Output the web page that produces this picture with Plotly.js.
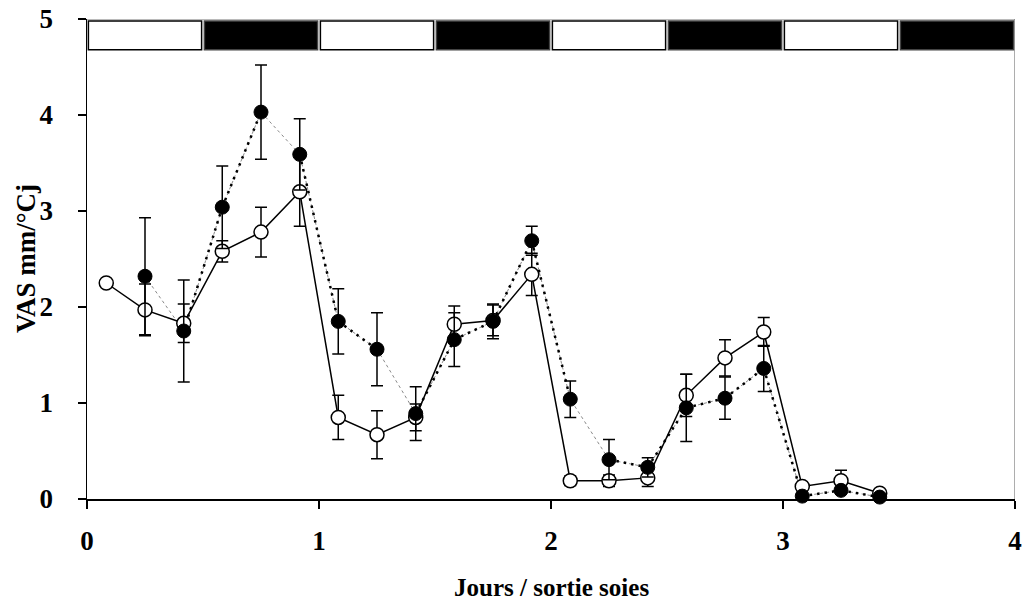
<!DOCTYPE html>
<html>
<head>
<meta charset="utf-8">
<script src="https://cdn.plot.ly/plotly-3.0.1.min.js"></script>
<style>html,body{margin:0;padding:0;background:#fff;}#chart{width:1024px;height:603px;}</style>
</head>
<body>
<div id="chart"></div>
<script>
// ---- Data ----
const openX = [0.083,0.25,0.417,0.583,0.75,0.917,1.083,1.25,1.417,1.583,1.75,1.917,2.083,2.25,2.417,2.583,2.75,2.917,3.083,3.25,3.417];
const openY = [2.25,1.97,1.83,2.58,2.78,3.20,0.85,0.67,0.85,1.82,1.86,2.34,0.19,0.19,0.22,1.08,1.47,1.74,0.13,0.19,0.06];
const openErr = [0,0.27,0.20,0.11,0.26,0.36,0.23,0.25,0.14,0.19,0.16,0.22,0.05,0.06,0.09,0.22,0.19,0.15,0.03,0.11,0.02];

const filledX = [0.25,0.417,0.583,0.75,0.917,1.083,1.25,1.417,1.583,1.75,1.917,2.083,2.25,2.417,2.583,2.75,2.917,3.083,3.25,3.417];
const filledY = [2.32,1.75,3.04,4.03,3.59,1.85,1.56,0.89,1.66,1.85,2.69,1.04,0.41,0.33,0.95,1.05,1.36,0.03,0.09,0.02];
const filledErr = [0.61,0.53,0.43,0.49,0.37,0.34,0.38,0.28,0.28,0.18,0.15,0.19,0.21,0.10,0.35,0.22,0.24,0.02,0.03,0.01];
// segments of the filled series drawn only with the thin grey dashed line
const greyOnlySegments = [0,3,6,11];

// light/dark periods bar (half-day blocks)
const periodStarts = [0,0.5,1,1.5,2,2.5,3,3.5];
const periodDark = [false,true,false,true,false,true,false,true];

const xTickVals = [0,1,2,3,4];
const yTickVals = [0,1,2,3,4,5];
const xTitle = "Jours / sortie soies";
const yTitle = "VAS mm/°Cj";

// ---- Traces ----
const traces = [];
traces.push({
  x: filledX, y: filledY, type: 'scatter', mode: 'lines',
  line: {color: '#8a8a8a', width: 1, dash: '3px,3px'},
  hoverinfo: 'skip', showlegend: false
});
for (let i = 0; i < filledX.length - 1; i++) {
  if (greyOnlySegments.includes(i)) continue;
  traces.push({
    x: [filledX[i], filledX[i+1]], y: [filledY[i], filledY[i+1]],
    type: 'scatter', mode: 'lines',
    line: {color: '#000', width: 2.5, dash: '2.5px,5px'},
    hoverinfo: 'skip', showlegend: false
  });
}
traces.push({
  x: openX, y: openY, type: 'scatter', mode: 'lines+markers',
  line: {color: '#000', width: 1.5},
  marker: {size: 14, color: '#fff', line: {color: '#000', width: 1.5}},
  error_y: {type: 'data', array: openErr, visible: true, color: '#000', thickness: 1.5, width: 6},
  cliponaxis: false, showlegend: false
});
traces.push({
  x: filledX, y: filledY, type: 'scatter', mode: 'markers',
  marker: {size: 14, color: '#000', line: {color: '#000', width: 1}},
  error_y: {type: 'data', array: filledErr, visible: true, color: '#000', thickness: 1.5, width: 6},
  cliponaxis: false, showlegend: false
});

// ---- Shapes ----
const shapes = [];
periodStarts.forEach((s, i) => {
  shapes.push({
    type: 'rect', xref: 'x', yref: 'y',
    x0: s + 0.006, x1: s + 0.5 - 0.006, y0: 4.68, y1: 4.98,
    fillcolor: periodDark[i] ? '#000' : '#fff',
    line: {color: periodDark[i] ? '#444' : '#000', width: 1.5}
  });
});
shapes.push({type: 'line', xref: 'x', yref: 'y', x0: 0, x1: 4, y0: 5, y1: 5, line: {color: '#777', width: 1.2}});
shapes.push({type: 'line', xref: 'x', yref: 'y', x0: 4, x1: 4, y0: 0, y1: 5, line: {color: '#777', width: 1.2}});

const font = {family: '"Liberation Serif", "Times New Roman", serif', color: '#000', weight: 'bold'};

const layout = {
  width: 1024, height: 603,
  margin: {l: 87, r: 9, t: 19, b: 104},
  paper_bgcolor: '#fff', plot_bgcolor: '#fff',
  showlegend: false,
  xaxis: {
    range: [0, 4], tickvals: xTickVals, ticktext: xTickVals.map(String),
    showgrid: false, zeroline: false, showline: true, linecolor: '#000', linewidth: 1.5,
    ticks: 'outside', ticklen: 8, tickwidth: 1.5, tickcolor: '#000',
    tickfont: Object.assign({size: 27}, font), ticklabelstandoff: 9
  },
  yaxis: {
    range: [0, 5], tickvals: yTickVals, ticktext: yTickVals.map(String),
    showgrid: false, zeroline: false, showline: true, linecolor: '#000', linewidth: 1.5,
    ticks: 'outside', ticklen: 8, tickwidth: 1.5, tickcolor: '#000',
    tickfont: Object.assign({size: 27}, font), ticklabelstandoff: 19
  },
  annotations: [
    {text: xTitle, xref: 'paper', yref: 'paper', x: 0.5, y: 0, yshift: -88,
     xanchor: 'center', yanchor: 'middle', showarrow: false, font: Object.assign({size: 25}, font)},
    {text: yTitle, xref: 'paper', yref: 'paper', x: 0, y: 0.5, xshift: -61, textangle: -90,
     xanchor: 'center', yanchor: 'middle', showarrow: false, font: Object.assign({size: 27}, font)}
  ],
  shapes: shapes
};

Plotly.newPlot('chart', traces, layout, {displayModeBar: false, staticPlot: true});
</script>
</body>
</html>
